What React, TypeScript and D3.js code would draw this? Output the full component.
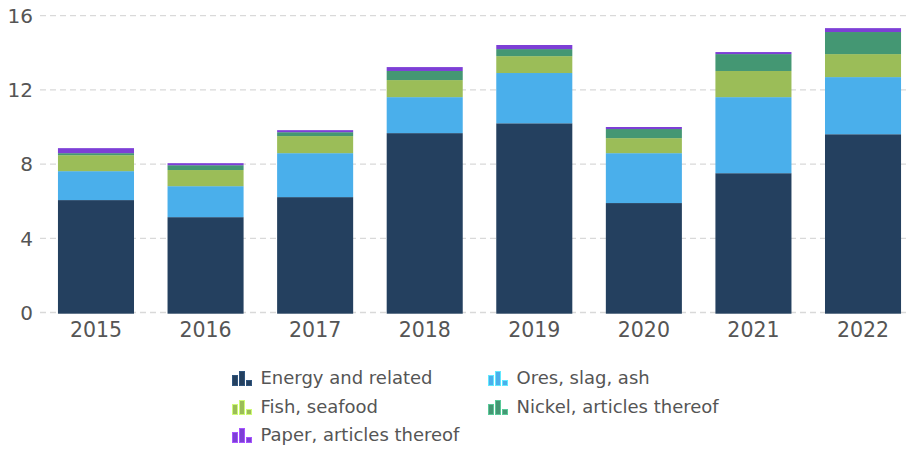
import { useEffect, useRef } from 'react';
import * as d3 from 'd3';

const years = ['2015', '2016', '2017', '2018', '2019', '2020', '2021', '2022'];
const seriesNames = ['Energy and related', 'Ores, slag, ash', 'Fish, seafood', 'Nickel, articles thereof', 'Paper, articles thereof'];
const seriesColors = ['#24405f', '#4aafeb', '#9bbd58', '#449773', '#7d3fd6'];

const energy = [6.06, 5.14, 6.22, 9.67, 10.2, 5.9, 7.51, 9.61];
const ores = [1.56, 1.67, 2.37, 1.94, 2.71, 2.69, 4.1, 3.08];
const fish = [0.86, 0.87, 0.92, 0.92, 0.91, 0.81, 1.41, 1.24];
const nickel = [0.11, 0.26, 0.21, 0.49, 0.38, 0.49, 0.91, 1.19];
const paper = [0.27, 0.11, 0.11, 0.21, 0.22, 0.11, 0.11, 0.21];

const yTicks = [0, 4, 8, 12, 16];

const WIDTH = 908;
const HEIGHT = 449;

export default function App() {
    const svgRef = useRef<SVGSVGElement>(null);

    useEffect(() => {
        if (!svgRef.current) return;
        const svg = d3.select(svgRef.current);
        svg.selectAll('*').remove();

        const font = '"DejaVu Sans", Verdana, sans-serif';
        const allSeries = [energy, ores, fish, nickel, paper];

        const rows = years.map((year, i) => {
            const row: Record<string, number | string> = { year };
            seriesNames.forEach((name, s) => { row[name] = allSeries[s][i]; });
            return row;
        });

        const stacked = d3.stack<Record<string, number | string>>()
            .keys(seriesNames)
            .value((d, key) => d[key] as number)(rows);

        const xScale = d3.scaleBand()
            .domain(years)
            .range([47, 912])
            .paddingInner(0.306)
            .paddingOuter(0.1);

        const yScale = d3.scaleLinear()
            .domain([0, 16])
            .range([312.5, 15.7]);

        // Gridlines
        svg.append('g')
            .selectAll('line')
            .data(yTicks)
            .join('line')
            .attr('x1', 40)
            .attr('x2', WIDTH)
            .attr('y1', d => yScale(d))
            .attr('y2', d => yScale(d))
            .attr('stroke', '#d9d9d9')
            .attr('stroke-width', 1.3)
            .attr('stroke-dasharray', '6,4');

        // Y labels
        svg.append('g')
            .selectAll('text')
            .data(yTicks)
            .join('text')
            .attr('x', 33)
            .attr('y', d => yScale(d))
            .attr('dy', '0.36em')
            .attr('text-anchor', 'end')
            .attr('fill', '#555')
            .attr('font-family', font)
            .attr('font-size', '20px')
            .text(d => d);

        // Stacked bars
        svg.append('g')
            .selectAll('g')
            .data(stacked)
            .join('g')
            .attr('fill', (d, i) => seriesColors[i])
            .selectAll('rect')
            .data(d => d)
            .join('rect')
            .attr('x', d => xScale(d.data.year as string)!)
            .attr('width', xScale.bandwidth())
            .attr('y', d => yScale(d[1]))
            .attr('height', d => yScale(d[0]) - yScale(d[1]) + (d[0] === 0 ? 1.2 : 0));

        // X labels
        svg.append('g')
            .selectAll('text')
            .data(years)
            .join('text')
            .attr('x', d => xScale(d)! + xScale.bandwidth() / 2)
            .attr('y', 337)
            .attr('text-anchor', 'middle')
            .attr('fill', '#555')
            .attr('font-family', font)
            .attr('font-size', '20.5px')
            .text(d => d);

        // Legend
        const legendPos = [
            { x: 232, y: 384 },
            { x: 488, y: 384 },
            { x: 232, y: 413 },
            { x: 488, y: 413 },
            { x: 232, y: 441 },
        ];
        const iconBars = [
            { dx: 0, h: 10 },
            { dx: 7, h: 14 },
            { dx: 14, h: 5 },
        ];

        const legend = svg.append('g')
            .selectAll('g')
            .data(seriesNames)
            .join('g')
            .attr('transform', (d, i) => `translate(${legendPos[i].x},${legendPos[i].y})`);

        legend.each(function (name, i) {
            const g = d3.select(this);
            g.selectAll('rect')
                .data(iconBars)
                .join('rect')
                .attr('x', b => b.dx + 0.5)
                .attr('y', b => 1.5 - b.h)
                .attr('width', 5)
                .attr('height', b => b.h)
                .attr('fill', seriesColors[i])
                .attr('stroke', d3.color(seriesColors[i])!.brighter(0.8).formatHex())
                .attr('stroke-width', 1);
            g.append('text')
                .attr('x', 28.5)
                .attr('y', 0)
                .attr('fill', '#555')
                .attr('font-family', font)
                .attr('font-size', '18px')
                .text(name);
        });
    }, []);

    return (
        <svg
            ref={svgRef}
            width={WIDTH}
            height={HEIGHT}
            style={{ position: 'fixed', left: 0, top: 0, background: '#fff' }}
        />
    );
}
